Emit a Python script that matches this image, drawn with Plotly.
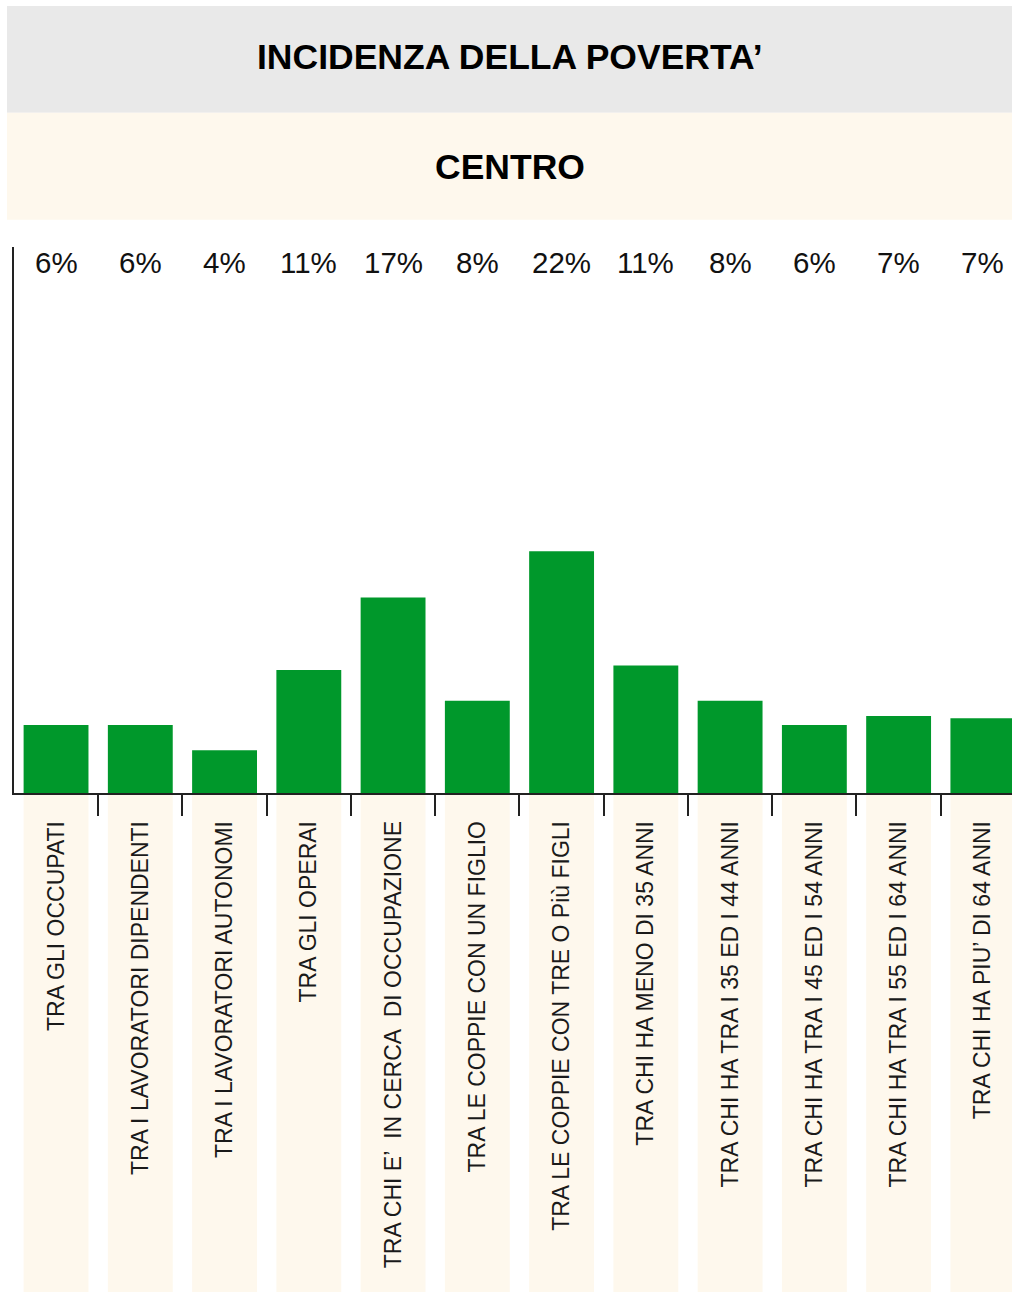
import plotly.graph_objects as go

# ---- data ----
categories = [
    "TRA GLI OCCUPATI",
    "TRA I LAVORATORI DIPENDENTI",
    "TRA I LAVORATORI AUTONOMI",
    "TRA GLI OPERAI",
    "TRA CHI E’ \u00a0IN CERCA \u00a0DI OCCUPAZIONE",
    "TRA LE COPPIE CON UN FIGLIO",
    "TRA LE COPPIE CON TRE O Più FIGLI",
    "TRA CHI HA MENO DI 35 ANNI",
    "TRA CHI HA TRA I 35 ED I 44 ANNI",
    "TRA CHI HA TRA I 45 ED I 54 ANNI",
    "TRA CHI HA TRA I 55 ED I 64 ANNI",
    "TRA CHI HA PIU’ DI 64 ANNI",
]
values = [6.2, 6.2, 3.9, 11.2, 17.8, 8.4, 22.0, 11.6, 8.4, 6.2, 7.0, 6.8]
pct_labels = ["6%", "6%", "4%", "11%", "17%", "8%", "22%", "11%", "8%", "6%", "7%", "7%"]
label_band = [1] * len(categories)

title_text = "INCIDENZA DELLA POVERTA’"
subtitle_text = "CENTRO"

# ---- styling ----
W, H = 1012, 1292
GREEN = "#00982b"
CREAM = "#fef8ed"
GRAY = "#e9e9e9"
AXIS = "#222222"
FONT = "Liberation Sans, Arial, Helvetica, sans-serif"

x_dom = [14 / W, 1.0]
main_dom = [(H - 793) / H, (H - 247) / H]
band_dom = [0.0, (H - 795) / H]
x_range = [-0.499, -0.5 + (W - 14) / 84.25]

fig = go.Figure()

# cream background boxes behind the category labels (bottom subplot)
fig.add_trace(go.Bar(
    x=categories, y=label_band, xaxis="x", yaxis="y",
    marker=dict(color=CREAM, line=dict(width=0)),
    hoverinfo="skip", showlegend=False,
))

# main bars (top subplot)
fig.add_trace(go.Bar(
    x=categories, y=values, xaxis="x2", yaxis="y2",
    marker=dict(color=GREEN, line=dict(width=0)),
    showlegend=False,
))

annotations = []
for cat, lab in zip(categories, pct_labels):
    annotations.append(dict(
        x=cat, xref="x2", y=1, yref="y2 domain", yanchor="middle", yshift=-15.5,
        text=lab, showarrow=False,
        font=dict(family=FONT, size=29.5, color="#111111"),
    ))

# title texts
annotations.append(dict(
    x=(7 + W) / 2 / W, xref="paper", xanchor="center",
    y=1 - 57 / H, yref="paper", yanchor="middle",
    text=title_text, showarrow=False,
    font=dict(family=FONT, size=35.5, color="#000000", weight="bold"),
))
annotations.append(dict(
    x=(7 + W) / 2 / W, xref="paper", xanchor="center",
    y=1 - 167 / H, yref="paper", yanchor="middle",
    text=subtitle_text, showarrow=False,
    font=dict(family=FONT, size=35.5, color="#000000", weight="bold"),
))

# title bands
shapes = [
    dict(type="rect", xref="paper", yref="paper", layer="below",
         x0=7 / W, x1=1, y0=1 - 112.7 / H, y1=1 - 6 / H,
         fillcolor=GRAY, line=dict(width=0)),
    dict(type="rect", xref="paper", yref="paper", layer="below",
         x0=7 / W, x1=1, y0=1 - 219.7 / H, y1=1 - 112.7 / H,
         fillcolor=CREAM, line=dict(width=0)),
]

fig.update_layout(
    width=W, height=H,
    margin=dict(l=0, r=0, t=0, b=0, pad=0),
    paper_bgcolor="white", plot_bgcolor="rgba(0,0,0,0)",
    bargap=0.23,
    showlegend=False,
    annotations=annotations,
    shapes=shapes,
    xaxis=dict(domain=x_dom, range=x_range, visible=False, fixedrange=True),
    yaxis=dict(domain=band_dom, range=[0, 1], visible=False, fixedrange=True),
    xaxis2=dict(
        domain=x_dom, range=x_range, anchor="y2", type="category",
        showline=True, linecolor=AXIS, linewidth=1.6,
        ticks="outside", ticklen=21, tickwidth=1.6, tickcolor=AXIS,
        tickson="boundaries", tickangle=-90, ticklabelstandoff=17,
        tickfont=dict(family=FONT, size=23, color="#1a1a1a"),
        showgrid=False, zeroline=False, automargin=False, fixedrange=True,
    ),
    yaxis2=dict(
        domain=main_dom, range=[0, 49.7], anchor="x2",
        showline=True, linecolor=AXIS, linewidth=1.6,
        ticks="", showticklabels=False, showgrid=False, zeroline=False,
        automargin=False, fixedrange=True,
    ),
)

fig.write_html(
    "out.html",
    config={"displayModeBar": False},
    post_script="document.body.style.margin='0';document.body.style.overflow='hidden';",
)
